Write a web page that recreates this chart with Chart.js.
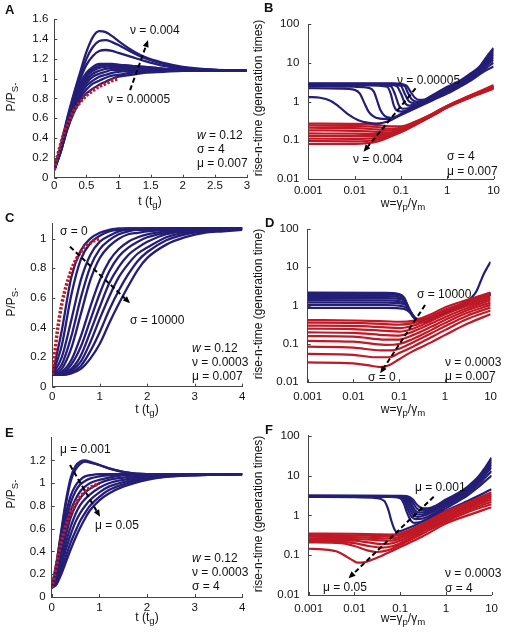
<!DOCTYPE html>
<html>
<head>
<meta charset="utf-8">
<title>Rise-time panels</title>
<script src="https://cdn.jsdelivr.net/npm/chart.js"></script>
<style>
body { margin: 0; background: #fff; width: 505px; height: 636px; position: relative; overflow: hidden;
       font-family: 'Liberation Sans', Arial, sans-serif; color: #111; }
canvas { position: absolute; }
.t { position: absolute; font-size: 12px; line-height: 1; white-space: nowrap; transform: translate(0, -50%); }
.c { transform: translate(-50%, -50%); }
.yt { transform: translate(-50%, -50%) rotate(-90deg); }
.L { font-weight: bold; font-size: 13px; transform: none; }
sub { font-size: 0.8em; vertical-align: -0.35em; line-height: 0; }
</style>
</head>
<body>
<canvas id="pA" width="252" height="207" style="left:0;top:0"></canvas>
<canvas id="pB" width="253" height="207" style="left:252px;top:0"></canvas>
<canvas id="pC" width="252" height="212" style="left:0;top:207px"></canvas>
<canvas id="pD" width="253" height="212" style="left:252px;top:207px"></canvas>
<canvas id="pE" width="252" height="217" style="left:0;top:419px"></canvas>
<canvas id="pF" width="253" height="217" style="left:252px;top:419px"></canvas>

<!-- panel letters -->
<div class="t L" style="left:5px;top:3px">A</div>
<div class="t L" style="left:264px;top:1px">B</div>
<div class="t L" style="left:5px;top:211px">C</div>
<div class="t L" style="left:265px;top:216px">D</div>
<div class="t L" style="left:5px;top:426px">E</div>
<div class="t L" style="left:265px;top:423px">F</div>

<!-- axis titles -->
<div class="t c" style="left:150px;top:201px">t (t<sub>g</sub>)</div>
<div class="t yt" style="left:11px;top:97px">P/P<sub>S-</sub></div>
<div class="t c" style="left:403px;top:203px">w=γ<sub>p</sub>/γ<sub>m</sub></div>
<div class="t yt" style="left:258px;top:98px">rise-n-time (generation times)</div>

<div class="t c" style="left:147px;top:409px">t (t<sub>g</sub>)</div>
<div class="t yt" style="left:11px;top:302px">P/P<sub>S-</sub></div>
<div class="t c" style="left:403px;top:409px">w=γ<sub>p</sub>/γ<sub>m</sub></div>
<div class="t yt" style="left:258px;top:304px">rise-n-time (generation time)</div>

<div class="t c" style="left:147px;top:617px">t (t<sub>g</sub>)</div>
<div class="t yt" style="left:11px;top:494px">P/P<sub>S-</sub></div>
<div class="t c" style="left:403px;top:618px">w=γ<sub>p</sub>/γ<sub>m</sub></div>
<div class="t yt" style="left:258px;top:514px">rise-n-time (generation times)</div>

<!-- annotations -->
<div class="t" style="left:130px;top:30px">ν = 0.004</div>
<div class="t" style="left:107px;top:99px">ν = 0.00005</div>
<div class="t" style="left:197px;top:135px"><i>w</i> = 0.12</div>
<div class="t" style="left:197px;top:149px">σ = 4</div>
<div class="t" style="left:197px;top:163px">μ = 0.007</div>

<div class="t" style="left:397px;top:80px">ν = 0.00005</div>
<div class="t" style="left:353px;top:159px">ν = 0.004</div>
<div class="t" style="left:447px;top:156px">σ = 4</div>
<div class="t" style="left:447px;top:171px">μ = 0.007</div>

<div class="t" style="left:60px;top:231px">σ = 0</div>
<div class="t" style="left:130px;top:320px">σ = 10000</div>
<div class="t" style="left:192px;top:348px"><i>w</i> = 0.12</div>
<div class="t" style="left:192px;top:362px">ν = 0.0003</div>
<div class="t" style="left:192px;top:376px">μ = 0.007</div>

<div class="t" style="left:417px;top:294px">σ = 10000</div>
<div class="t" style="left:368px;top:377px">σ = 0</div>
<div class="t" style="left:445px;top:362px">ν = 0.0003</div>
<div class="t" style="left:445px;top:376px">μ = 0.007</div>

<div class="t" style="left:60px;top:449px">μ = 0.001</div>
<div class="t" style="left:95px;top:525px">μ = 0.05</div>
<div class="t" style="left:192px;top:558px"><i>w</i> = 0.12</div>
<div class="t" style="left:192px;top:572px">ν = 0.0003</div>
<div class="t" style="left:192px;top:586px">σ = 4</div>

<div class="t" style="left:415px;top:487px">μ = 0.001</div>
<div class="t" style="left:323px;top:587px">μ = 0.05</div>
<div class="t" style="left:445px;top:573px">ν = 0.0003</div>
<div class="t" style="left:445px;top:588px">σ = 4</div>

<script>
// ---- data ----
// panel A: P/PS- vs t, nu varied
var tA = [0, 0.1, 0.2, 0.3, 0.4, 0.5, 0.6, 0.7, 0.8, 0.9, 1.0, 1.2, 1.4, 1.7, 2.0, 2.5, 3.0];
var curvesA = [
    [0.08, 0.32, 0.60, 0.84, 1.06, 1.27, 1.42, 1.48, 1.47, 1.43, 1.38, 1.29, 1.22, 1.16, 1.12, 1.09, 1.08],
    [0.08, 0.31, 0.58, 0.82, 1.02, 1.20, 1.32, 1.38, 1.39, 1.37, 1.34, 1.27, 1.21, 1.15, 1.11, 1.09, 1.08],
    [0.08, 0.30, 0.57, 0.80, 0.99, 1.14, 1.23, 1.28, 1.29, 1.28, 1.26, 1.22, 1.18, 1.13, 1.10, 1.09, 1.08],
    [0.08, 0.29, 0.55, 0.78, 0.95, 1.06, 1.12, 1.15, 1.15, 1.15, 1.14, 1.13, 1.12, 1.10, 1.09, 1.08, 1.08],
    [0.08, 0.29, 0.54, 0.76, 0.93, 1.04, 1.10, 1.13, 1.14, 1.14, 1.14, 1.13, 1.12, 1.10, 1.09, 1.08, 1.08],
    [0.08, 0.28, 0.53, 0.75, 0.91, 1.02, 1.08, 1.11, 1.12, 1.13, 1.13, 1.12, 1.11, 1.10, 1.09, 1.08, 1.08],
    [0.08, 0.28, 0.52, 0.73, 0.89, 0.99, 1.05, 1.08, 1.10, 1.11, 1.11, 1.11, 1.10, 1.09, 1.09, 1.08, 1.08],
    [0.08, 0.27, 0.51, 0.71, 0.86, 0.96, 1.02, 1.05, 1.07, 1.09, 1.09, 1.10, 1.10, 1.09, 1.09, 1.08, 1.08],
    [0.08, 0.27, 0.50, 0.69, 0.83, 0.93, 0.98, 1.02, 1.04, 1.06, 1.07, 1.08, 1.08, 1.08, 1.08, 1.08, 1.08],
    [0.08, 0.26, 0.49, 0.67, 0.80, 0.89, 0.95, 0.98, 1.01, 1.03, 1.04, 1.06, 1.07, 1.08, 1.08, 1.08, 1.08],
    [0.08, 0.26, 0.48, 0.65, 0.77, 0.85, 0.90, 0.94, 0.97, 1.00, 1.02, 1.04, 1.06, 1.07, 1.08, 1.08, 1.08]
];
var redA_t = [0, 0.05, 0.1, 0.15, 0.2, 0.25, 0.3, 0.35, 0.4, 0.5, 0.6, 0.7, 0.8, 0.9, 1.0];
var redA_v = [0.08, 0.22, 0.34, 0.45, 0.53, 0.60, 0.67, 0.72, 0.76, 0.83, 0.88, 0.92, 0.95, 0.98, 1.0];

// panel C: sigma varied
var tC = [0, 0.2, 0.4, 0.6, 0.8, 1.0, 1.2, 1.4, 1.6, 1.8, 2.0, 2.4, 2.8, 3.2, 3.6, 4.0];
var curvesC = [
    [0.08, 0.38, 0.74, 0.92, 1.00, 1.04, 1.06, 1.07, 1.07, 1.07, 1.07, 1.07, 1.07, 1.07, 1.07, 1.07],
    [0.08, 0.28, 0.62, 0.86, 0.97, 1.02, 1.05, 1.06, 1.07, 1.07, 1.07, 1.07, 1.07, 1.07, 1.07, 1.07],
    [0.08, 0.20, 0.45, 0.72, 0.89, 0.98, 1.02, 1.05, 1.06, 1.06, 1.07, 1.07, 1.07, 1.07, 1.07, 1.07],
    [0.08, 0.15, 0.34, 0.60, 0.81, 0.93, 0.99, 1.03, 1.05, 1.06, 1.06, 1.07, 1.07, 1.07, 1.07, 1.07],
    [0.08, 0.12, 0.26, 0.49, 0.72, 0.87, 0.95, 1.00, 1.03, 1.04, 1.05, 1.06, 1.07, 1.07, 1.07, 1.07],
    [0.08, 0.10, 0.18, 0.34, 0.54, 0.72, 0.85, 0.93, 0.98, 1.01, 1.03, 1.05, 1.06, 1.07, 1.07, 1.07],
    [0.08, 0.09, 0.15, 0.27, 0.45, 0.63, 0.78, 0.88, 0.94, 0.98, 1.01, 1.04, 1.05, 1.06, 1.07, 1.07],
    [0.08, 0.09, 0.12, 0.21, 0.37, 0.54, 0.70, 0.81, 0.89, 0.94, 0.98, 1.03, 1.05, 1.06, 1.06, 1.07],
    [0.08, 0.08, 0.11, 0.17, 0.30, 0.46, 0.61, 0.74, 0.83, 0.90, 0.94, 1.01, 1.04, 1.05, 1.06, 1.07],
    [0.08, 0.08, 0.10, 0.14, 0.24, 0.37, 0.52, 0.65, 0.76, 0.85, 0.91, 0.99, 1.03, 1.05, 1.06, 1.06],
    [0.08, 0.08, 0.09, 0.12, 0.19, 0.29, 0.43, 0.56, 0.68, 0.79, 0.87, 0.96, 1.01, 1.04, 1.05, 1.06]
];
var redC_t = [0, 0.05, 0.1, 0.15, 0.2, 0.25, 0.3, 0.35, 0.4, 0.5, 0.6, 0.7, 0.8, 0.9, 1.0];
var redC_v = [0.08, 0.22, 0.36, 0.47, 0.56, 0.63, 0.69, 0.74, 0.79, 0.86, 0.91, 0.95, 0.97, 0.99, 1.0];

// panel E: mu varied
var tE = [0, 0.1, 0.2, 0.3, 0.4, 0.5, 0.6, 0.7, 0.8, 1.0, 1.2, 1.5, 2.0, 2.5, 3.0, 4.0];
var curvesE = [
    [0.08, 0.30, 0.58, 0.85, 1.05, 1.15, 1.19, 1.20, 1.19, 1.16, 1.13, 1.10, 1.08, 1.08, 1.08, 1.08],
    [0.08, 0.29, 0.56, 0.82, 1.02, 1.12, 1.17, 1.19, 1.18, 1.16, 1.13, 1.10, 1.08, 1.08, 1.08, 1.08],
    [0.08, 0.26, 0.50, 0.73, 0.89, 0.98, 1.03, 1.06, 1.07, 1.08, 1.08, 1.08, 1.08, 1.08, 1.08, 1.08],
    [0.08, 0.24, 0.46, 0.67, 0.83, 0.93, 0.99, 1.02, 1.04, 1.06, 1.07, 1.08, 1.08, 1.08, 1.08, 1.08],
    [0.08, 0.22, 0.42, 0.61, 0.76, 0.86, 0.93, 0.97, 1.00, 1.03, 1.05, 1.07, 1.08, 1.08, 1.08, 1.08],
    [0.08, 0.19, 0.37, 0.55, 0.70, 0.80, 0.87, 0.92, 0.95, 1.00, 1.03, 1.05, 1.07, 1.08, 1.08, 1.08],
    [0.08, 0.17, 0.32, 0.48, 0.62, 0.73, 0.81, 0.86, 0.90, 0.96, 1.00, 1.03, 1.06, 1.07, 1.08, 1.08],
    [0.08, 0.15, 0.28, 0.42, 0.55, 0.66, 0.74, 0.80, 0.85, 0.92, 0.97, 1.01, 1.05, 1.07, 1.08, 1.08],
    [0.08, 0.13, 0.24, 0.36, 0.48, 0.58, 0.67, 0.74, 0.80, 0.88, 0.94, 0.99, 1.04, 1.06, 1.07, 1.08],
    [0.08, 0.11, 0.20, 0.31, 0.42, 0.52, 0.61, 0.69, 0.76, 0.85, 0.91, 0.97, 1.03, 1.06, 1.07, 1.08]
];
var redE_t = [0, 0.05, 0.1, 0.15, 0.2, 0.25, 0.3, 0.35, 0.4, 0.5, 0.6, 0.7, 0.8, 0.9, 1.0];
var redE_v = [0.08, 0.17, 0.28, 0.39, 0.48, 0.56, 0.63, 0.69, 0.74, 0.82, 0.88, 0.93, 0.96, 0.98, 1.0];

// panel B: rise time vs w, nu varied ([w, time] pairs)
var blueB = [
    [[0.001,1.3],[0.0018,1.25],[0.003,1.05],[0.0045,0.75],[0.007,0.48],[0.012,0.33],[0.02,0.28],[0.03,0.27],[0.05,0.3],[0.1,0.45],[0.2,0.66],[0.5,1.1],[1,1.6],[2,2.5],[3,3.3],[5,5],[7,6.5],[10,8]],
    [[0.001,2.2],[0.005,2.15],[0.01,2.0],[0.013,1.6],[0.016,0.95],[0.02,0.55],[0.025,0.42],[0.035,0.36],[0.05,0.35],[0.07,0.38],[0.1,0.46],[0.2,0.68],[0.5,1.15],[1,1.7],[2,2.6],[3,3.5],[5,5.5],[7,7.5],[10,10]],
    [[0.001,2.45],[0.01,2.4],[0.02,2.25],[0.026,1.8],[0.031,1.0],[0.036,0.6],[0.045,0.42],[0.06,0.38],[0.08,0.41],[0.1,0.48],[0.2,0.72],[0.5,1.2],[1,1.8],[2,2.7],[3,3.7],[5,6],[7,8.5],[10,12]],
    [[0.001,2.6],[0.02,2.6],[0.05,2.4],[0.06,1.6],[0.07,0.8],[0.08,0.6],[0.1,0.55],[0.15,0.62],[0.2,0.75],[0.5,1.25],[1,1.9],[2,2.9],[3,3.9],[5,6.3],[7,9],[10,14]],
    [[0.001,2.7],[0.03,2.7],[0.06,2.5],[0.075,1.5],[0.09,0.8],[0.11,0.65],[0.15,0.68],[0.2,0.8],[0.5,1.3],[1,2.0],[2,3.0],[3,4.1],[5,6.6],[7,10],[10,16]],
    [[0.001,2.75],[0.04,2.75],[0.08,2.5],[0.1,1.6],[0.12,0.95],[0.15,0.78],[0.2,0.85],[0.5,1.35],[1,2.1],[2,3.2],[3,4.3],[5,7],[7,11],[10,18]],
    [[0.001,2.8],[0.05,2.8],[0.1,2.5],[0.12,1.6],[0.15,1.0],[0.2,0.9],[0.3,1.0],[0.5,1.4],[1,2.2],[2,3.3],[3,4.5],[5,7.3],[7,12],[10,20]],
    [[0.001,2.85],[0.06,2.85],[0.12,2.5],[0.14,1.7],[0.17,1.15],[0.22,1.0],[0.3,1.05],[0.5,1.45],[1,2.3],[2,3.4],[3,4.7],[5,7.7],[7,13],[10,22]],
    [[0.001,2.95],[0.07,2.95],[0.13,2.6],[0.16,1.8],[0.2,1.25],[0.25,1.1],[0.32,1.12],[0.5,1.5],[1,2.4],[2,3.6],[3,5],[5,8],[7,14],[10,24]]
];
var redB = [
    [[0.001,0.27],[0.01,0.265],[0.03,0.25],[0.06,0.23],[0.1,0.23],[0.2,0.3],[0.5,0.5],[1,0.78],[3,1.4],[10,2.65]],
    [[0.001,0.24],[0.01,0.235],[0.03,0.22],[0.06,0.2],[0.1,0.21],[0.2,0.29],[0.5,0.49],[1,0.77],[3,1.38],[10,2.55]],
    [[0.001,0.21],[0.01,0.205],[0.03,0.19],[0.06,0.18],[0.1,0.2],[0.2,0.28],[0.5,0.48],[1,0.76],[3,1.36],[10,2.45]],
    [[0.001,0.18],[0.01,0.175],[0.03,0.165],[0.06,0.16],[0.1,0.19],[0.2,0.27],[0.5,0.47],[1,0.75],[3,1.34],[10,2.4]],
    [[0.001,0.15],[0.01,0.148],[0.03,0.145],[0.06,0.15],[0.1,0.18],[0.2,0.265],[0.5,0.46],[1,0.74],[3,1.32],[10,2.35]],
    [[0.001,0.13],[0.01,0.128],[0.03,0.13],[0.06,0.14],[0.1,0.175],[0.2,0.26],[0.5,0.455],[1,0.73],[3,1.3],[10,2.3]],
    [[0.001,0.11],[0.01,0.108],[0.03,0.115],[0.06,0.135],[0.1,0.17],[0.2,0.255],[0.5,0.45],[1,0.72],[3,1.28],[10,2.25]],
    [[0.001,0.095],[0.01,0.094],[0.03,0.103],[0.06,0.13],[0.1,0.165],[0.2,0.25],[0.5,0.445],[1,0.71],[3,1.26],[10,2.2]],
    [[0.001,0.08],[0.01,0.081],[0.03,0.092],[0.06,0.125],[0.1,0.16],[0.2,0.245],[0.5,0.44],[1,0.7],[3,1.24],[10,2.15]]
];

// panel D: sigma varied
var blueD = [
    [[0.001,2.2],[0.05,2.15],[0.1,2.0],[0.13,1.6],[0.16,0.9],[0.2,0.55],[0.25,0.45],[0.35,0.45],[0.5,0.5],[1,0.7],[2,1.0],[3,1.3],[4,1.7],[5,2.5],[6,4.2],[7,6.5],[8.5,10],[10,14]],
    [[0.001,2.0],[0.05,1.96],[0.1,1.84],[0.13,1.5],[0.16,0.85],[0.2,0.52],[0.25,0.43],[0.35,0.43],[0.5,0.49],[1,0.68],[3,1.22],[5,1.6],[10,2.15]],
    [[0.001,1.8],[0.05,1.77],[0.1,1.66],[0.135,1.35],[0.165,0.8],[0.2,0.52],[0.26,0.42],[0.35,0.42],[0.5,0.48],[1,0.67],[3,1.2],[5,1.58],[10,2.1]],
    [[0.001,1.6],[0.05,1.57],[0.1,1.5],[0.14,1.22],[0.17,0.76],[0.21,0.5],[0.27,0.41],[0.35,0.41],[0.5,0.47],[1,0.66],[3,1.18],[5,1.55],[10,2.05]],
    [[0.001,1.4],[0.05,1.38],[0.1,1.32],[0.14,1.1],[0.175,0.72],[0.22,0.48],[0.28,0.4],[0.36,0.4],[0.5,0.46],[1,0.65],[3,1.16],[5,1.52],[10,2.0]],
    [[0.001,1.22],[0.05,1.2],[0.1,1.16],[0.15,0.98],[0.18,0.68],[0.22,0.47],[0.28,0.39],[0.36,0.39],[0.5,0.45],[1,0.64],[3,1.14],[5,1.5],[10,1.98]],
    [[0.001,1.05],[0.05,1.04],[0.1,1.0],[0.15,0.86],[0.185,0.63],[0.23,0.45],[0.29,0.38],[0.37,0.38],[0.5,0.44],[1,0.63],[3,1.12],[5,1.48],[10,1.95]],
    [[0.001,0.88],[0.05,0.87],[0.1,0.85],[0.15,0.76],[0.19,0.58],[0.24,0.43],[0.3,0.37],[0.38,0.37],[0.5,0.43],[1,0.62],[3,1.1],[5,1.45],[10,1.92]]
];
var redD = [
    [[0.001,0.42],[0.01,0.41],[0.05,0.39],[0.1,0.38],[0.2,0.4],[0.5,0.6],[1,0.9],[3,1.4],[10,2.2]],
    [[0.001,0.36],[0.01,0.355],[0.05,0.33],[0.1,0.32],[0.2,0.35],[0.5,0.53],[1,0.78],[3,1.25],[10,1.95]],
    [[0.001,0.3],[0.01,0.295],[0.05,0.27],[0.1,0.26],[0.2,0.3],[0.5,0.46],[1,0.68],[3,1.1],[10,1.75]],
    [[0.001,0.25],[0.01,0.245],[0.05,0.22],[0.1,0.21],[0.2,0.25],[0.5,0.4],[1,0.59],[3,0.98],[10,1.55]],
    [[0.001,0.2],[0.01,0.195],[0.05,0.17],[0.1,0.165],[0.2,0.21],[0.5,0.34],[1,0.5],[3,0.86],[10,1.38]],
    [[0.001,0.16],[0.01,0.155],[0.05,0.13],[0.1,0.13],[0.2,0.17],[0.5,0.28],[1,0.42],[3,0.75],[10,1.2]],
    [[0.001,0.12],[0.01,0.115],[0.05,0.095],[0.1,0.1],[0.2,0.135],[0.5,0.23],[1,0.35],[3,0.64],[10,1.05]],
    [[0.001,0.085],[0.01,0.08],[0.04,0.068],[0.07,0.068],[0.1,0.075],[0.2,0.11],[0.5,0.19],[1,0.29],[3,0.54],[10,0.9]],
    [[0.001,0.055],[0.01,0.052],[0.03,0.045],[0.06,0.045],[0.1,0.058],[0.2,0.085],[0.5,0.15],[1,0.23],[3,0.44],[10,0.75]],
    [[0.001,0.033],[0.01,0.031],[0.02,0.028],[0.04,0.025],[0.06,0.028],[0.1,0.04],[0.2,0.065],[0.5,0.11],[1,0.17],[3,0.33],[10,0.6]]
];

// panel F: mu varied
var blueF = [
    [[0.001,2.9],[0.01,2.85],[0.03,2.7],[0.045,2.3],[0.055,1.4],[0.065,0.7],[0.075,0.45],[0.085,0.38],[0.1,0.4],[0.2,0.55],[0.5,0.9],[1,1.3],[3,2.3],[10,4.5]],
    [[0.001,3.0],[0.05,2.95],[0.1,2.7],[0.12,2.0],[0.14,1.2],[0.17,0.75],[0.2,0.65],[0.3,0.7],[0.5,0.95],[1,1.5],[2,2.4],[3,3.2],[5,5],[7,7],[10,10]],
    [[0.001,3.0],[0.06,2.95],[0.11,2.75],[0.13,2.1],[0.15,1.35],[0.18,0.9],[0.22,0.8],[0.3,0.82],[0.5,1.05],[1,1.7],[2,2.7],[3,3.6],[5,5.8],[7,8.5],[10,13]],
    [[0.001,3.05],[0.07,3.0],[0.12,2.8],[0.14,2.2],[0.16,1.5],[0.19,1.05],[0.24,0.92],[0.3,0.95],[0.5,1.2],[1,1.9],[2,3.0],[3,4.0],[5,6.5],[7,10],[10,16]],
    [[0.001,3.05],[0.08,3.0],[0.13,2.8],[0.15,2.3],[0.17,1.7],[0.2,1.2],[0.25,1.05],[0.3,1.05],[0.5,1.3],[1,2.05],[2,3.2],[3,4.4],[5,7.2],[7,11],[10,19]],
    [[0.001,3.1],[0.09,3.05],[0.14,2.85],[0.16,2.4],[0.18,1.85],[0.21,1.35],[0.26,1.18],[0.35,1.2],[0.5,1.4],[1,2.2],[2,3.4],[3,4.7],[5,7.8],[7,12.5],[10,22]],
    [[0.001,3.1],[0.1,3.05],[0.15,2.9],[0.17,2.5],[0.2,1.9],[0.23,1.5],[0.28,1.35],[0.35,1.35],[0.5,1.5],[1,2.35],[2,3.6],[3,5.0],[5,8.5],[7,14],[10,25]],
    [[0.001,3.15],[0.11,3.1],[0.16,2.9],[0.19,2.5],[0.22,2.0],[0.26,1.65],[0.32,1.5],[0.4,1.5],[0.6,1.75],[1,2.5],[2,3.8],[3,5.3],[5,9],[7,15],[10,28]]
];
var redF = [
    [[0.001,0.145],[0.002,0.14],[0.004,0.125],[0.006,0.1],[0.009,0.075],[0.012,0.065],[0.016,0.066],[0.025,0.078],[0.05,0.11],[0.1,0.16],[0.3,0.29],[1,0.62],[3,1.0],[10,1.6]],
    [[0.001,0.21],[0.005,0.2],[0.01,0.17],[0.02,0.13],[0.03,0.12],[0.05,0.13],[0.1,0.18],[0.3,0.34],[1,0.7],[3,1.2],[10,1.9]],
    [[0.001,0.22],[0.005,0.215],[0.01,0.2],[0.02,0.17],[0.04,0.155],[0.07,0.17],[0.1,0.2],[0.3,0.38],[1,0.78],[3,1.35],[10,2.2]],
    [[0.001,0.24],[0.01,0.23],[0.02,0.21],[0.04,0.19],[0.07,0.2],[0.1,0.23],[0.3,0.42],[1,0.86],[3,1.5],[10,2.5]],
    [[0.001,0.26],[0.01,0.255],[0.03,0.24],[0.06,0.23],[0.1,0.26],[0.3,0.46],[1,0.95],[3,1.65],[10,2.8]],
    [[0.001,0.29],[0.01,0.285],[0.03,0.27],[0.06,0.265],[0.1,0.29],[0.3,0.5],[1,1.05],[3,1.8],[10,3.1]],
    [[0.001,0.32],[0.01,0.315],[0.03,0.305],[0.06,0.3],[0.1,0.32],[0.3,0.55],[1,1.15],[3,1.95],[10,3.4]],
    [[0.001,0.35],[0.01,0.345],[0.03,0.335],[0.06,0.33],[0.1,0.35],[0.3,0.6],[1,1.25],[3,2.1],[10,3.8]]
];

// tick values
var ticksA_x = [0, 0.5, 1, 1.5, 2, 2.5, 3];
var ticksA_y = [0, 0.2, 0.4, 0.6, 0.8, 1, 1.2, 1.4, 1.6];
var ticksCE_x = [0, 1, 2, 3, 4];
var ticksC_y = [0, 0.2, 0.4, 0.6, 0.8, 1];
var ticksE_y = [0, 0.2, 0.4, 0.6, 0.8, 1, 1.2];
var logTicksW = [0.001, 0.01, 0.1, 1, 10];
var logTicksT = [0.01, 0.1, 1, 10, 100];

// arrows [from, to] in data units, head at "to"
var arrowA = [[1.18, 0.885], [1.46, 1.39]];
var arrowB = [[0.207, 2.19], [0.0156, 0.0507]];
var arrowC = [[0.373, 0.946], [1.636, 0.564]];
var arrowD = [[0.369, 1.04], [0.0386, 0.0172]];
var arrowE = [[0.384, 1.159], [1.014, 0.705]];
var arrowF = [[0.542, 2.94], [0.00743, 0.0262]];

// ---- drawing ----
var NAVY = 'rgb(36,30,118)';
var RED = 'rgb(192,24,36)';
Chart.defaults.font.family = "'Liberation Sans', Arial, sans-serif";
Chart.defaults.font.size = 11.5;
Chart.defaults.color = '#111';

function fmt(v) { return String(+Number(v).toPrecision(6)); }

function lineSet(xs, ys, color, order, extra) {
    return Object.assign({
        data: ys.map(function (v, i) { return { x: xs[i], y: v }; }),
        borderColor: color, borderWidth: 2.3, pointRadius: 0, fill: false,
        cubicInterpolationMode: 'monotone', order: order
    }, extra || {});
}
function pairSet(pts, color, order) {
    return {
        data: pts.map(function (p) { return { x: p[0], y: p[1] }; }),
        borderColor: color, borderWidth: 2.2, pointRadius: 0, fill: false,
        cubicInterpolationMode: 'monotone', order: order
    };
}

// matlab style inward ticks
var inTicks = {
    id: 'inTicks',
    afterDatasetsDraw: function (chart) {
        var ctx = chart.ctx, a = chart.chartArea, x = chart.scales.x, y = chart.scales.y;
        ctx.save();
        ctx.strokeStyle = '#444';
        ctx.lineWidth = 1;
        x.ticks.forEach(function (t) {
            var p = Math.round(x.getPixelForValue(t.value)) + 0.5;
            ctx.beginPath(); ctx.moveTo(p, a.bottom); ctx.lineTo(p, a.bottom - 3); ctx.stroke();
        });
        y.ticks.forEach(function (t) {
            var p = Math.round(y.getPixelForValue(t.value)) + 0.5;
            ctx.beginPath(); ctx.moveTo(a.left, p); ctx.lineTo(a.left + 3, p); ctx.stroke();
        });
        ctx.restore();
    }
};

function arrowPlugin(arr) {
    return {
        id: 'arrow',
        afterDatasetsDraw: function (chart) {
            var ctx = chart.ctx, x = chart.scales.x, y = chart.scales.y;
            var x1 = x.getPixelForValue(arr[0][0]), y1 = y.getPixelForValue(arr[0][1]);
            var x2 = x.getPixelForValue(arr[1][0]), y2 = y.getPixelForValue(arr[1][1]);
            var ang = Math.atan2(y2 - y1, x2 - x1), L = 7, W = 3;
            var bx = x2 - L * Math.cos(ang), by = y2 - L * Math.sin(ang);
            ctx.save();
            ctx.strokeStyle = '#000';
            ctx.fillStyle = '#000';
            ctx.lineWidth = 2;
            ctx.setLineDash([5, 3]);
            ctx.beginPath(); ctx.moveTo(x1, y1); ctx.lineTo(bx, by); ctx.stroke();
            ctx.setLineDash([]);
            ctx.beginPath();
            ctx.moveTo(x2, y2);
            ctx.lineTo(bx - W * Math.sin(ang), by + W * Math.cos(ang));
            ctx.lineTo(bx + W * Math.sin(ang), by - W * Math.cos(ang));
            ctx.closePath(); ctx.fill();
            ctx.restore();
        }
    };
}

function axis(type, min, max, ticks, pad) {
    return {
        type: type, min: min, max: max,
        grid: { display: false, drawTicks: false },
        border: { display: true, color: '#444', width: 1 },
        ticks: { padding: pad, autoSkip: false, maxRotation: 0, callback: fmt },
        afterBuildTicks: function (s) { s.ticks = ticks.map(function (v) { return { value: v }; }); }
    };
}

// area: plot rectangle inside the canvas (l, r, t, b)
function panel(id, area, xAx, yAx, sets, arr) {
    var cv = document.getElementById(id);
    var W = cv.width, H = cv.height;
    xAx.afterFit = function (s) { s.height = H - area.b; };
    yAx.afterFit = function (s) { s.width = area.l; };
    return new Chart(cv, {
        type: 'line',
        data: { datasets: sets },
        options: {
            responsive: false,
            animation: false,
            layout: { padding: { top: area.t, right: W - area.r, left: 0, bottom: 0 } },
            plugins: { legend: { display: false }, tooltip: { enabled: false } },
            scales: { x: xAx, y: yAx }
        },
        plugins: [inTicks, arrowPlugin(arr)]
    });
}

var dotted = { borderWidth: 3.5, borderDash: [2.5, 1.6] };

panel('pA', { l: 54.3, r: 247, t: 19.3, b: 177.7 },
    axis('linear', 0, 3, ticksA_x, 1.5), axis('linear', 0, 1.6, ticksA_y, 6),
    curvesA.map(function (c) { return lineSet(tA, c, NAVY, 1); })
        .concat([lineSet(redA_t, redA_v, RED, 0, dotted)]),
    arrowA);

panel('pB', { l: 56.3, r: 246.3, t: 24, b: 179 },
    axis('logarithmic', 0.001, 10, logTicksW, 5), axis('logarithmic', 0.01, 100, logTicksT, 9),
    blueB.map(function (c) { return pairSet(c, NAVY, 1); })
        .concat(redB.map(function (c) { return pairSet(c, RED, 2); })),
    arrowB);

panel('pC', { l: 52.3, r: 242.3, t: 16.9, b: 179.7 },
    axis('linear', 0, 4, ticksCE_x, 3), axis('linear', 0, 1.1, ticksC_y, 6),
    curvesC.map(function (c) { return lineSet(tC, c, NAVY, 1); })
        .concat([lineSet(redC_t, redC_v, RED, 0, dotted)]),
    arrowC);

panel('pD', { l: 55.7, r: 246.3, t: 22, b: 175.3 },
    axis('logarithmic', 0.001, 10, logTicksW, 8), axis('logarithmic', 0.01, 100, logTicksT, 9),
    blueD.map(function (c) { return pairSet(c, NAVY, 2); })
        .concat(redD.map(function (c) { return pairSet(c, RED, 1); })),
    arrowD);

panel('pE', { l: 51.7, r: 242.3, t: 18.7, b: 178 },
    axis('linear', 0, 4, ticksCE_x, 3.5), axis('linear', 0, 1.4, ticksE_y, 6),
    curvesE.map(function (c) { return lineSet(tE, c, NAVY, 1); })
        .concat([lineSet(redE_t, redE_v, RED, 0, dotted)]),
    arrowE);

panel('pF', { l: 56.7, r: 246.3, t: 16.7, b: 176 },
    axis('logarithmic', 0.001, 10, logTicksW, 7), axis('logarithmic', 0.01, 100, logTicksT, 9),
    blueF.map(function (c) { return pairSet(c, NAVY, 2); })
        .concat(redF.map(function (c) { return pairSet(c, RED, 1); })),
    arrowF);
</script>
</body>
</html>
